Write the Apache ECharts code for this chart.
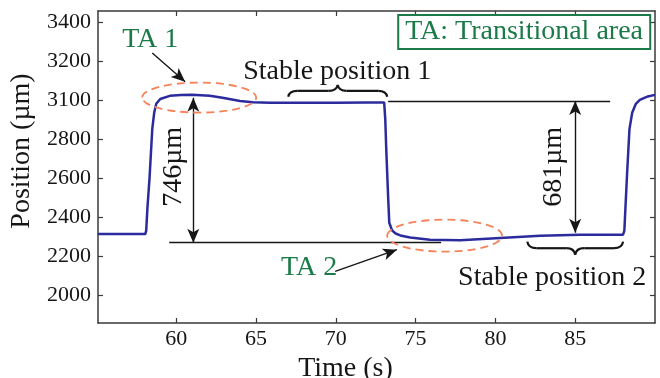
<!DOCTYPE html>
<html>
<head>
<meta charset="utf-8">
<script src="https://cdn.jsdelivr.net/npm/echarts@6/dist/echarts.min.js"></script>
<style>
  html, body { margin: 0; padding: 0; background: #fff; }
  #position-chart { width: 660px; height: 378px; }
</style>
</head>
<body>
<div id="position-chart"></div>
<script>
var timeS = [55.1, 58.06, 58.12, 58.2, 58.33, 58.5, 58.62, 58.75, 59.0, 59.6, 60.3, 61.0, 62.1, 62.9, 64.0, 64.8, 65.9, 68, 70, 72, 73.03, 73.1, 73.16, 73.28, 73.35, 73.53, 73.75, 74.04, 74.66, 75.9, 77.8, 80.3, 82.8, 85.3, 88.0, 88.08, 88.15, 88.25, 88.4, 88.57, 88.8, 89.05, 89.55, 90.0];
var positionUm = [2312, 2312, 2330, 2450, 2600, 2850, 2934, 2980, 3005, 3021, 3025, 3026, 3021, 3011, 2995, 2988, 2986, 2985, 2986, 2987, 2987, 2900, 2750, 2500, 2370, 2330, 2315, 2305, 2294, 2283, 2280, 2292, 2304, 2308, 2309, 2330, 2450, 2620, 2850, 2934, 2980, 3000, 3018, 3026];

var xTickValues = [60, 65, 70, 75, 80, 85];
var yTickValues = [2000, 2200, 2400, 2600, 2800, 3000, 3200, 3400];
var yTickLabels = ["2000", "2200", "2400", "2600", "2800", "3100", "3200", "3400"];

// annotation anchors in data coords [time, position]
var ta1Label = [58.37, 3308];
var ta1Arrow = [[58.5, 3241], [60.56, 3093]];
var ta1Ellipse = { center: [61.44, 3012], rx: 3.57, ry: 77 };
var ta2Label = [68.33, 2140];
var ta2Arrow = [[69.96, 2121], [73.83, 2232]];
var ta2Ellipse = { center: [76.82, 2304], rx: 3.6, ry: 82 };
var lowLine = [[59.56, 2268], [76.6, 2268]];
var highLine = [[73.28, 2995], [87.19, 2995]];
var gap746 = [[61.07, 3011], [61.07, 2268]];
var gap681 = [[85.0, 2995], [85.0, 2319]];
var gap746Label = [59.87, 2657];
var gap681Label = [83.62, 2657];
var brace1 = { from: 67.02, to: 73.22, base: 3016, tip: 3077 };
var brace2 = { from: 82.0, to: 88.0, base: 2273, tip: 2206 };
var stable1Label = [70.09, 3144];
var stable2Label = [83.56, 2089];

var serif = "Liberation Serif";
var green = "#1b7a48";
var ink = "#161616";

var chart = echarts.init(document.getElementById("position-chart"));

function axisBase(extra) {
  var a = {
    type: "value",
    axisLine: { show: true, lineStyle: { color: "#3a3a3a", width: 1.5 } },
    axisTick: { show: true, inside: true, length: 5, lineStyle: { color: "#3a3a3a", width: 1.2 } },
    splitLine: { show: false }
  };
  for (var k in extra) a[k] = extra[k];
  return a;
}

var lineData = timeS.map(function (t, i) { return [t, positionUm[i]]; });

function seg(p, q, s1, s2) {
  return [
    { coord: p, symbol: s1 },
    { coord: q, symbol: s2 }
  ];
}

var option = {
  animation: false,
  title: {
    text: "TA: Transitional area",
    right: 10,
    top: 15,
    borderColor: green,
    borderWidth: 2,
    padding: [2, 7, 2, 7],
    textStyle: { fontFamily: serif, fontSize: 28, fontWeight: "normal", color: green, lineHeight: 30 }
  },
  grid: { left: 98, right: 5, top: 11, bottom: 55, outerBoundsMode: "none" },
  xAxis: [
    axisBase({
      min: 55.1, max: 90, position: "bottom",
      name: "Time (s)", nameLocation: "middle", nameGap: 21,
      nameTextStyle: { fontFamily: serif, fontSize: 28, color: ink, padding: [0, 62, 0, 0] },
      axisTick: { show: true, inside: true, length: 5, customValues: xTickValues, lineStyle: { color: "#3a3a3a", width: 1.2 } },
      axisLabel: { customValues: xTickValues, fontFamily: serif, fontSize: 22, color: ink, margin: 5 }
    }),
    axisBase({
      min: 55.1, max: 90, position: "top",
      axisTick: { show: true, inside: true, length: 5, customValues: xTickValues, lineStyle: { color: "#3a3a3a", width: 1.2 } },
      axisLabel: { show: false }
    })
  ],
  yAxis: [
    axisBase({
      min: 1856, max: 3456, position: "left",
      name: "Position (\u00b5m)", nameLocation: "middle", nameGap: 47,
      nameTextStyle: { fontFamily: serif, fontSize: 28, color: ink, padding: [0, 0, 0, 32] },
      axisTick: { show: true, inside: true, length: 5, customValues: yTickValues, lineStyle: { color: "#3a3a3a", width: 1.2 } },
      axisLabel: {
        customValues: yTickValues, fontFamily: serif, fontSize: 22, color: ink, margin: 7,
        formatter: function (v) { var i = yTickValues.indexOf(v); return i >= 0 ? yTickLabels[i] : ""; }
      }
    }),
    axisBase({
      min: 1856, max: 3456, position: "right",
      axisTick: { show: true, inside: true, length: 5, customValues: yTickValues, lineStyle: { color: "#3a3a3a", width: 1.2 } },
      axisLabel: { show: false }
    })
  ],
  series: [
    {
      name: "Position",
      type: "line",
      xAxisIndex: 0,
      yAxisIndex: 0,
      data: lineData,
      showSymbol: false,
      lineStyle: { color: "#2b2b9e", width: 2.5 },
      markLine: {
        silent: true,
        symbolSize: [9, 14],
        label: { show: false },
        lineStyle: { color: ink, width: 1.4, type: "solid" },
        emphasis: { disabled: true },
        data: [
          seg(lowLine[0], lowLine[1], "none", "none"),
          seg(highLine[0], highLine[1], "none", "none"),
          seg(gap746[0], gap746[1], "arrow", "arrow"),
          seg(gap681[0], gap681[1], "arrow", "arrow"),
          seg(ta1Arrow[0], ta1Arrow[1], "none", "arrow"),
          seg(ta2Arrow[0], ta2Arrow[1], "none", "arrow")
        ]
      }
    }
  ]
};
chart.setOption(option);

function px(c) {
  return chart.convertToPixel({ xAxisIndex: 0, yAxisIndex: 0 }, c);
}

function ellipseEl(e) {
  var c = px(e.center);
  var edge = px([e.center[0] + e.rx, e.center[1] + e.ry]);
  return {
    type: "ellipse",
    silent: true,
    shape: { cx: c[0], cy: c[1], rx: Math.abs(edge[0] - c[0]), ry: Math.abs(c[1] - edge[1]) },
    style: { fill: null, stroke: "#f4835a", lineWidth: 1.8, lineDash: [8, 5] },
    z: 100
  };
}

function textEl(c, text, color, rot) {
  var p = px(c);
  return {
    type: "text",
    silent: true,
    x: p[0],
    y: p[1],
    rotation: rot || 0,
    style: {
      text: text, x: 0, y: 0, align: "center", verticalAlign: "middle",
      font: "28px '" + serif + "'", fill: color
    },
    z: 100
  };
}

// curly brace between two times, tip pointing from base to tip
function braceEls(b) {
  var a = px([b.from, b.base]);
  var z = px([b.to, b.base]);
  var tipY = px([b.from, b.tip])[1];
  var xm = (a[0] + z[0]) / 2;
  var y0 = a[1];
  var ymid = (y0 + tipY) / 2;
  var w = 9;
  var st = { stroke: ink, lineWidth: 2.2, fill: null };
  function q(x1, y1, cx, cy, x2, y2) {
    return { type: "bezierCurve", silent: true, z: 100, style: st,
      shape: { x1: x1, y1: y1, cpx1: cx, cpy1: cy, x2: x2, y2: y2 } };
  }
  function l(x1, y1, x2, y2) {
    return { type: "line", silent: true, z: 100, style: st,
      shape: { x1: x1, y1: y1, x2: x2, y2: y2 } };
  }
  return [
    q(a[0], y0, a[0] + 1, ymid, a[0] + w, ymid),
    l(a[0] + w, ymid, xm - w, ymid),
    q(xm - w, ymid, xm - 1, ymid, xm, tipY),
    q(xm, tipY, xm + 1, ymid, xm + w, ymid),
    l(xm + w, ymid, z[0] - w, ymid),
    q(z[0] - w, ymid, z[0] - 1, ymid, z[0], y0)
  ];
}

var els = [
  ellipseEl(ta1Ellipse),
  ellipseEl(ta2Ellipse),
  textEl(ta1Label, "TA 1", green),
  textEl(ta2Label, "TA 2", green),
  textEl(stable1Label, "Stable position 1", ink),
  textEl(stable2Label, "Stable position 2", ink),
  textEl(gap746Label, "746\u00b5m", ink, Math.PI / 2),
  textEl(gap681Label, "681\u00b5m", ink, Math.PI / 2)
].concat(braceEls(brace1), braceEls(brace2));

chart.setOption({ graphic: { elements: els } });

window.addEventListener("resize", function () {
  chart.resize();
});
</script>
</body>
</html>
